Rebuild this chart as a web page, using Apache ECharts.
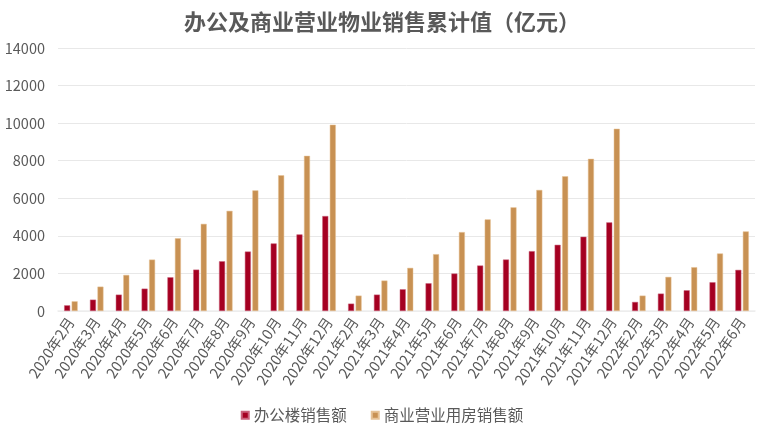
<!DOCTYPE html>
<html>
<head>
<meta charset="utf-8">
<script src="https://cdn.jsdelivr.net/npm/echarts@6/dist/echarts.min.js"></script>
<style>html,body{margin:0;padding:0;background:#fff;}#c{width:764px;height:430px;}</style>
</head>
<body>
<div id="c"></div>
<script>
var categories = ['2020年2月','2020年3月','2020年4月','2020年5月','2020年6月','2020年7月','2020年8月','2020年9月','2020年10月','2020年11月','2020年12月',
  '2021年2月','2021年3月','2021年4月','2021年5月','2021年6月','2021年7月','2021年8月','2021年9月','2021年10月','2021年11月','2021年12月',
  '2022年2月','2022年3月','2022年4月','2022年5月','2022年6月'];
var officeSales = [302,604,871,1190,1795,2203,2648,3165,3596,4076,5055,
  392,872,1157,1477,1994,2421,2741,3186,3524,3952,4717,
  481,926,1103,1531,2189];
var commercialSales = [515,1297,1919,2737,3874,4638,5331,6420,7227,8259,9915,
  819,1620,2296,3026,4201,4877,5518,6444,7173,8099,9701,
  819,1816,2332,3062,4236];
var seriesNames = ['办公楼销售额','商业营业用房销售额'];
var titleText = '办公及商业营业物业销售累计值（亿元）';

var chart = echarts.init(document.getElementById('c'));
var font = '"Noto Sans CJK SC", "Noto Sans", sans-serif';
chart.setOption({
  animation: false,
  title: {
    text: titleText, left: 'center', top: 6,
    textStyle: {fontFamily: font, fontSize: 22, fontWeight: 'bold', color: '#595959'}
  },
  legend: {
    data: seriesNames, bottom: 2, left: 'center',
    itemWidth: 7, itemHeight: 7, itemGap: 24, icon: 'rect',
    textStyle: {fontFamily: font, fontSize: 15.5, color: '#595959'}
  },
  grid: {left: 58, right: 9, top: 48, bottom: 119, containLabel: false},
  xAxis: {
    type: 'category', data: categories,
    axisLine: {show: true, lineStyle: {color: '#eeeeee', width: 1.5}},
    axisTick: {show: false},
    axisLabel: {rotate: 56, interval: 0, fontFamily: font, fontSize: 14.5, color: '#595959', margin: 8}
  },
  yAxis: {
    type: 'value', min: 0, max: 14000, interval: 2000,
    axisLine: {show: false}, axisTick: {show: false},
    splitLine: {lineStyle: {color: '#e8e8e8', width: 1}},
    axisLabel: {fontFamily: font, fontSize: 14.5, color: '#595959', margin: 13,
      formatter: function (v) { return String(v); }}
  },
  series: [
    {name: seriesNames[0], type: 'bar', data: officeSales, barWidth: 6, barGap: '25%',
     itemStyle: {color: '#A50021', borderColor: '#c9607a', borderWidth: 0.5}},
    {name: seriesNames[1], type: 'bar', data: commercialSales, barWidth: 6, barGap: '25%',
     itemStyle: {color: '#C89153', borderColor: '#e6c296', borderWidth: 0.5}}
  ]
});
</script>
</body>
</html>
